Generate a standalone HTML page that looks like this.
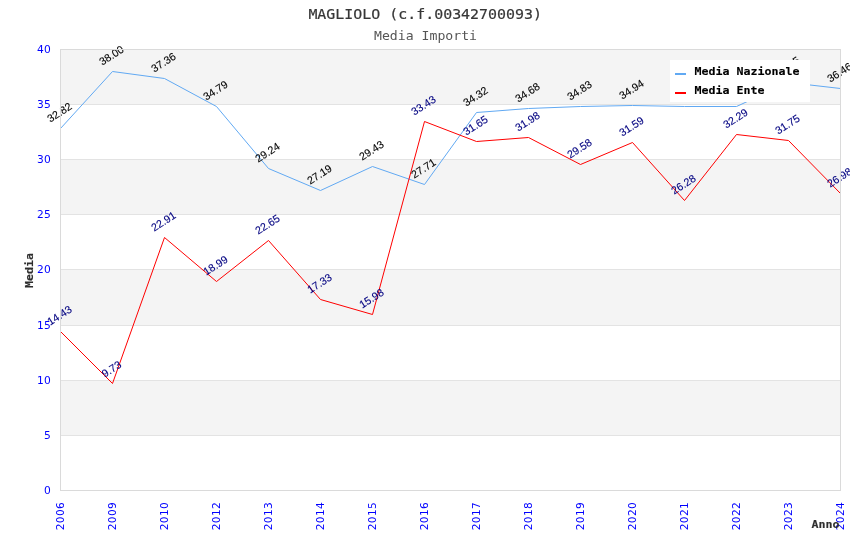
<!DOCTYPE html>
<html lang="it"><head><meta charset="utf-8"><title>MAGLIOLO (c.f.00342700093) - Media Importi</title>
<style>html,body{margin:0;padding:0;background:#fff}body{width:850px;height:550px;overflow:hidden}svg{display:block}text{white-space:pre}.ax{font-family:"DejaVu Sans", "Liberation Sans", sans-serif;font-size:10.67px;fill:#0000ff;letter-spacing:0.3px}.lab{font-family:"Liberation Sans", sans-serif;font-size:10.67px;stroke-width:0.12px}.leg{font-family:"DejaVu Sans Mono", "Liberation Mono", monospace;font-size:11px;font-weight:bold;fill:#000;stroke:#000;stroke-width:0.12px}.axt{fill:#2e2e2e;stroke:#2e2e2e}.tt{font-family:"DejaVu Sans Mono", "Liberation Mono", monospace;font-size:13.5px;fill:#363636}.st{font-family:"DejaVu Sans Mono", "Liberation Mono", monospace;font-size:13.0px;fill:#555555}</style></head><body>
<svg width="850" height="550" viewBox="0 0 850 550">
<rect width="850" height="550" fill="#ffffff"/>
<g shape-rendering="crispEdges">
<rect x="60" y="435" width="780" height="55" fill="#ffffff"/>
<rect x="60" y="380" width="780" height="55" fill="#f4f4f4"/>
<rect x="60" y="325" width="780" height="55" fill="#ffffff"/>
<rect x="60" y="269" width="780" height="56" fill="#f4f4f4"/>
<rect x="60" y="214" width="780" height="55" fill="#ffffff"/>
<rect x="60" y="159" width="780" height="55" fill="#f4f4f4"/>
<rect x="60" y="104" width="780" height="55" fill="#ffffff"/>
<rect x="60" y="49" width="780" height="55" fill="#f4f4f4"/>
<rect x="60" y="435" width="781" height="1" fill="#e3e3e3"/>
<rect x="60" y="380" width="781" height="1" fill="#e3e3e3"/>
<rect x="60" y="325" width="781" height="1" fill="#e3e3e3"/>
<rect x="60" y="269" width="781" height="1" fill="#e3e3e3"/>
<rect x="60" y="214" width="781" height="1" fill="#e3e3e3"/>
<rect x="60" y="159" width="781" height="1" fill="#e3e3e3"/>
<rect x="60" y="104" width="781" height="1" fill="#e3e3e3"/>
</g>
<polyline points="60.50,128.50 112.50,71.50 164.50,78.50 216.50,106.50 268.50,168.50 320.50,190.50 372.50,166.50 424.50,184.50 476.50,112.50 528.50,108.50 580.50,106.50 632.50,105.50 684.50,106.50 736.50,106.50 788.50,82.50 840.50,88.50" fill="none" stroke="#61a9f3" stroke-width="1.0" stroke-linejoin="miter"/>
<polyline points="60.50,331.50 112.50,383.50 164.50,237.50 216.50,281.50 268.50,240.50 320.50,299.50 372.50,314.50 424.50,121.50 476.50,141.50 528.50,137.50 580.50,164.50 632.50,142.50 684.50,200.50 736.50,134.50 788.50,140.50 840.50,193.50" fill="none" stroke="#ff0000" stroke-width="1.0" stroke-linejoin="miter"/>
<text class="lab" fill="#000000" stroke="#000000" transform="translate(50.27 122.75) rotate(-33)">32.82</text>
<text class="lab" fill="#000000" stroke="#000000" transform="translate(102.27 65.75) rotate(-33)">38.00</text>
<text class="lab" fill="#000000" stroke="#000000" transform="translate(154.27 72.75) rotate(-33)">37.36</text>
<text class="lab" fill="#000000" stroke="#000000" transform="translate(206.27 100.75) rotate(-33)">34.79</text>
<text class="lab" fill="#000000" stroke="#000000" transform="translate(258.27 162.75) rotate(-33)">29.24</text>
<text class="lab" fill="#000000" stroke="#000000" transform="translate(310.27 184.75) rotate(-33)">27.19</text>
<text class="lab" fill="#000000" stroke="#000000" transform="translate(362.27 160.75) rotate(-33)">29.43</text>
<text class="lab" fill="#000000" stroke="#000000" transform="translate(414.27 178.75) rotate(-33)">27.71</text>
<text class="lab" fill="#000000" stroke="#000000" transform="translate(466.27 106.75) rotate(-33)">34.32</text>
<text class="lab" fill="#000000" stroke="#000000" transform="translate(518.27 102.75) rotate(-33)">34.68</text>
<text class="lab" fill="#000000" stroke="#000000" transform="translate(570.27 100.75) rotate(-33)">34.83</text>
<text class="lab" fill="#000000" stroke="#000000" transform="translate(622.27 99.75) rotate(-33)">34.94</text>
<text class="lab" fill="#000000" stroke="#000000" transform="translate(674.27 100.75) rotate(-33)">34.87</text>
<text class="lab" fill="#000000" stroke="#000000" transform="translate(726.27 100.75) rotate(-33)">34.87</text>
<text class="lab" fill="#000000" stroke="#000000" transform="translate(778.27 76.75) rotate(-33)">37.05</text>
<text class="lab" fill="#000000" stroke="#000000" transform="translate(830.27 82.75) rotate(-33)">36.46</text>
<text class="lab" fill="#000080" stroke="#000080" transform="translate(50.27 325.75) rotate(-33)">14.43</text>
<text class="lab" fill="#000080" stroke="#000080" transform="translate(104.76 377.75) rotate(-33)">9.73</text>
<text class="lab" fill="#000080" stroke="#000080" transform="translate(154.27 231.75) rotate(-33)">22.91</text>
<text class="lab" fill="#000080" stroke="#000080" transform="translate(206.27 275.75) rotate(-33)">18.99</text>
<text class="lab" fill="#000080" stroke="#000080" transform="translate(258.27 234.75) rotate(-33)">22.65</text>
<text class="lab" fill="#000080" stroke="#000080" transform="translate(310.27 293.75) rotate(-33)">17.33</text>
<text class="lab" fill="#000080" stroke="#000080" transform="translate(362.27 308.75) rotate(-33)">15.98</text>
<text class="lab" fill="#000080" stroke="#000080" transform="translate(414.27 115.75) rotate(-33)">33.43</text>
<text class="lab" fill="#000080" stroke="#000080" transform="translate(466.27 135.75) rotate(-33)">31.65</text>
<text class="lab" fill="#000080" stroke="#000080" transform="translate(518.27 131.75) rotate(-33)">31.98</text>
<text class="lab" fill="#000080" stroke="#000080" transform="translate(570.27 158.75) rotate(-33)">29.58</text>
<text class="lab" fill="#000080" stroke="#000080" transform="translate(622.27 136.75) rotate(-33)">31.59</text>
<text class="lab" fill="#000080" stroke="#000080" transform="translate(674.27 194.75) rotate(-33)">26.28</text>
<text class="lab" fill="#000080" stroke="#000080" transform="translate(726.27 128.75) rotate(-33)">32.29</text>
<text class="lab" fill="#000080" stroke="#000080" transform="translate(778.27 134.75) rotate(-33)">31.75</text>
<text class="lab" fill="#000080" stroke="#000080" transform="translate(830.27 187.75) rotate(-33)">26.98</text>
<g shape-rendering="crispEdges">
<rect x="60" y="49" width="781" height="1" fill="#dadada"/>
<rect x="60" y="490" width="781" height="1" fill="#dadada"/>
<rect x="60" y="49" width="1" height="442" fill="#dadada"/>
<rect x="840" y="49" width="1" height="442" fill="#dadada"/>
</g>
<g shape-rendering="crispEdges"><rect x="670" y="60" width="140" height="42" fill="#ffffff"/><rect x="675" y="73" width="11" height="2" fill="#61a9f3"/><rect x="675" y="92" width="11" height="2" fill="#ff0000"/></g>
<text class="leg" x="694.5" y="75.2" textLength="105" lengthAdjust="spacingAndGlyphs">Media Nazionale</text>
<text class="leg" x="694.5" y="94.2" textLength="70" lengthAdjust="spacingAndGlyphs">Media Ente</text>
<text class="ax" x="51.1" y="494.00" text-anchor="end">0</text>
<text class="ax" x="51.1" y="439.00" text-anchor="end">5</text>
<text class="ax" x="51.1" y="384.00" text-anchor="end">10</text>
<text class="ax" x="51.1" y="329.00" text-anchor="end">15</text>
<text class="ax" x="51.1" y="273.00" text-anchor="end">20</text>
<text class="ax" x="51.1" y="218.00" text-anchor="end">25</text>
<text class="ax" x="51.1" y="163.00" text-anchor="end">30</text>
<text class="ax" x="51.1" y="108.00" text-anchor="end">35</text>
<text class="ax" x="51.1" y="53.00" text-anchor="end">40</text>
<text class="ax" text-anchor="end" transform="translate(64.40 501.90) rotate(-90)">2006</text>
<text class="ax" text-anchor="end" transform="translate(116.40 501.90) rotate(-90)">2009</text>
<text class="ax" text-anchor="end" transform="translate(168.40 501.90) rotate(-90)">2010</text>
<text class="ax" text-anchor="end" transform="translate(220.40 501.90) rotate(-90)">2012</text>
<text class="ax" text-anchor="end" transform="translate(272.40 501.90) rotate(-90)">2013</text>
<text class="ax" text-anchor="end" transform="translate(324.40 501.90) rotate(-90)">2014</text>
<text class="ax" text-anchor="end" transform="translate(376.40 501.90) rotate(-90)">2015</text>
<text class="ax" text-anchor="end" transform="translate(428.40 501.90) rotate(-90)">2016</text>
<text class="ax" text-anchor="end" transform="translate(480.40 501.90) rotate(-90)">2017</text>
<text class="ax" text-anchor="end" transform="translate(532.40 501.90) rotate(-90)">2018</text>
<text class="ax" text-anchor="end" transform="translate(584.40 501.90) rotate(-90)">2019</text>
<text class="ax" text-anchor="end" transform="translate(636.40 501.90) rotate(-90)">2020</text>
<text class="ax" text-anchor="end" transform="translate(688.40 501.90) rotate(-90)">2021</text>
<text class="ax" text-anchor="end" transform="translate(740.40 501.90) rotate(-90)">2022</text>
<text class="ax" text-anchor="end" transform="translate(792.40 501.90) rotate(-90)">2023</text>
<text class="ax" text-anchor="end" transform="translate(844.40 501.90) rotate(-90)">2024</text>
<text class="leg axt" x="811.6" y="528" textLength="28" lengthAdjust="spacingAndGlyphs">Anno</text>
<text class="leg axt" transform="translate(33 288) rotate(-90)" textLength="35" lengthAdjust="spacingAndGlyphs">Media</text>
<text class="tt" x="308.4" y="19" textLength="233.6" lengthAdjust="spacingAndGlyphs" stroke="#363636" stroke-width="0.2" paint-order="stroke">MAGLIOLO (c.f.00342700093)</text>
<text class="st" x="374" y="39.8" textLength="103" lengthAdjust="spacingAndGlyphs">Media Importi</text>
</svg></body></html>
